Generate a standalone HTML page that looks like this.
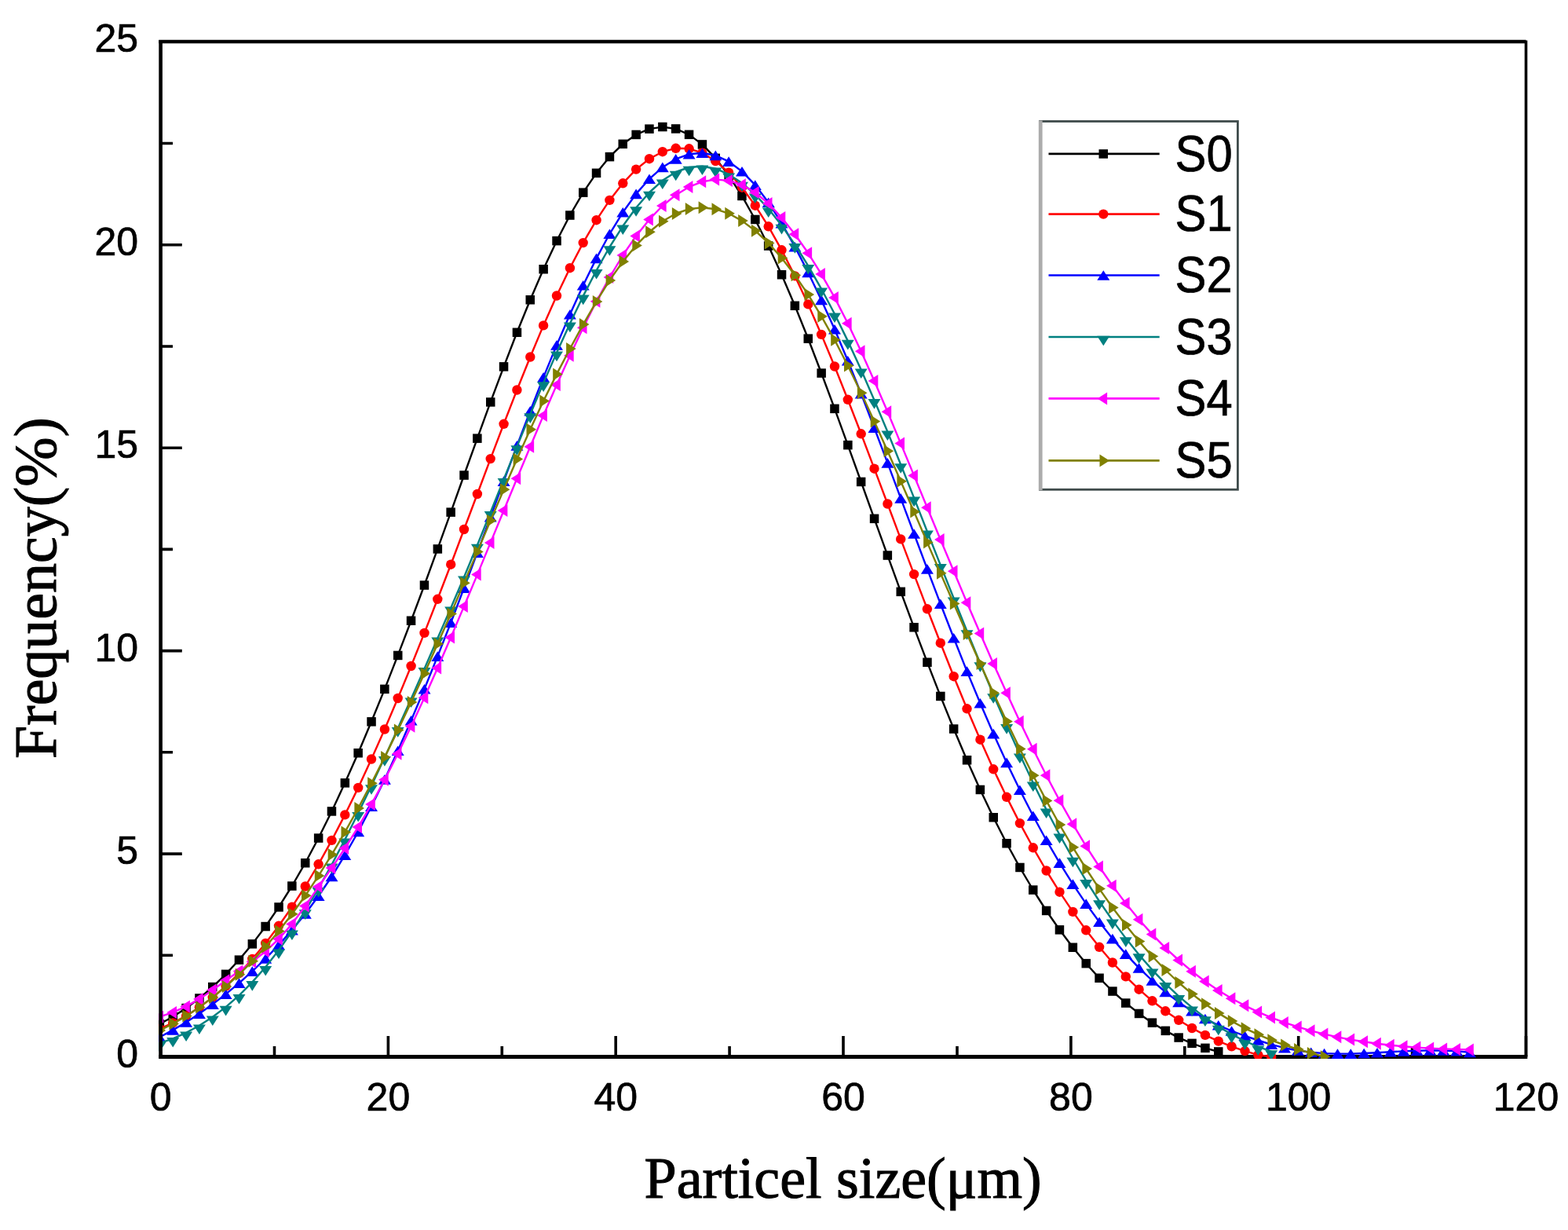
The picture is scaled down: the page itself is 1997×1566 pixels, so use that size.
<!DOCTYPE html>
<html><head><meta charset="utf-8"><title>Particle size distribution</title>
<style>html,body{margin:0;padding:0;background:#fff;} svg{display:block;}</style>
</head><body>
<svg width="1997" height="1566" viewBox="0 0 1997 1566">
<defs><clipPath id="pc"><rect x="202.1" y="50.8" width="1743.9" height="1297.2"/></clipPath></defs>
<rect x="0" y="0" width="1997" height="1566" fill="#ffffff"/>
<path d="M202.29999999999998,53.0H1943.5" stroke="#000" stroke-width="4.4" fill="none"/>
<path d="M1943.5,51.4V1345.5" stroke="#000" stroke-width="3.6" fill="none"/>
<path d="M202.29999999999998,1345.5H1945.3" stroke="#000" stroke-width="4.8" fill="none"/>
<path d="M204.6,1345.5H231.8 M204.6,1087.1H231.8 M204.6,828.6H231.8 M204.6,570.2H231.8 M204.6,311.7H231.8 M204.6,53.3H231.8 M204.6,1216.3H220 M204.6,957.8H220 M204.6,699.4H220 M204.6,441.0H220 M204.6,182.5H220 M204.6,1345.5V1319 M494.4,1345.5V1319 M784.2,1345.5V1319 M1074.0,1345.5V1319 M1363.9,1345.5V1319 M1653.7,1345.5V1319 M1943.5,1345.5V1319 M349.5,1345.5V1332 M639.3,1345.5V1332 M929.1,1345.5V1332 M1219.0,1345.5V1332 M1508.8,1345.5V1332 M1798.6,1345.5V1332" stroke="#000" stroke-width="3.6" fill="none"/>
<g clip-path="url(#pc)">
<g fill="#000000" stroke="none">
<polyline points="203.3,1303.8 220.2,1294.5 237.1,1283.6 253.9,1271.0 270.8,1256.6 287.6,1240.3 304.5,1222.1 321.3,1201.9 338.2,1179.5 355.0,1154.9 371.9,1128.0 388.8,1098.7 405.6,1067.0 422.5,1033.0 439.3,996.8 456.2,958.7 473.0,918.8 489.9,877.4 506.7,834.4 523.6,790.3 540.5,745.0 557.3,698.9 574.2,652.1 591.0,605.0 607.9,558.2 624.7,511.9 641.6,466.8 658.4,423.3 675.3,381.8 692.1,342.8 709.0,306.7 725.9,274.0 742.7,245.2 759.6,220.3 776.4,199.7 793.3,183.3 810.1,171.4 827.0,164.1 843.8,161.6 860.7,164.0 877.6,171.4 894.4,183.9 911.3,201.4 928.1,223.3 945.0,249.5 961.8,279.5 978.7,313.0 995.5,349.7 1012.4,389.3 1029.3,431.2 1046.1,475.0 1063.0,520.3 1079.8,566.6 1096.7,613.5 1113.5,660.4 1130.4,707.1 1147.2,753.3 1164.1,798.8 1180.9,843.2 1197.8,886.4 1214.7,928.0 1231.5,967.8 1248.4,1005.4 1265.2,1040.7 1282.1,1073.7 1298.9,1104.5 1315.8,1133.0 1332.6,1159.5 1349.5,1183.8 1366.4,1206.2 1383.2,1226.7 1400.1,1245.2 1416.9,1262.0 1433.8,1277.0 1450.6,1290.4 1467.5,1302.2 1484.3,1312.4 1501.2,1321.1 1518.1,1328.4 1534.9,1334.3 1551.8,1339.0" fill="none" stroke="#000000" stroke-width="2.4" stroke-linejoin="round"/>
<rect x="197.6" y="1298.0" width="11.5" height="11.5"/>
<rect x="214.5" y="1288.7" width="11.5" height="11.5"/>
<rect x="231.3" y="1277.8" width="11.5" height="11.5"/>
<rect x="248.2" y="1265.2" width="11.5" height="11.5"/>
<rect x="265.0" y="1250.8" width="11.5" height="11.5"/>
<rect x="281.9" y="1234.6" width="11.5" height="11.5"/>
<rect x="298.7" y="1216.4" width="11.5" height="11.5"/>
<rect x="315.6" y="1196.1" width="11.5" height="11.5"/>
<rect x="332.4" y="1173.8" width="11.5" height="11.5"/>
<rect x="349.3" y="1149.2" width="11.5" height="11.5"/>
<rect x="366.1" y="1122.3" width="11.5" height="11.5"/>
<rect x="383.0" y="1093.0" width="11.5" height="11.5"/>
<rect x="399.9" y="1061.3" width="11.5" height="11.5"/>
<rect x="416.7" y="1027.2" width="11.5" height="11.5"/>
<rect x="433.6" y="991.1" width="11.5" height="11.5"/>
<rect x="450.4" y="953.0" width="11.5" height="11.5"/>
<rect x="467.3" y="913.1" width="11.5" height="11.5"/>
<rect x="484.1" y="871.6" width="11.5" height="11.5"/>
<rect x="501.0" y="828.7" width="11.5" height="11.5"/>
<rect x="517.8" y="784.5" width="11.5" height="11.5"/>
<rect x="534.7" y="739.3" width="11.5" height="11.5"/>
<rect x="551.6" y="693.2" width="11.5" height="11.5"/>
<rect x="568.4" y="646.4" width="11.5" height="11.5"/>
<rect x="585.3" y="599.3" width="11.5" height="11.5"/>
<rect x="602.1" y="552.4" width="11.5" height="11.5"/>
<rect x="619.0" y="506.2" width="11.5" height="11.5"/>
<rect x="635.8" y="461.1" width="11.5" height="11.5"/>
<rect x="652.7" y="417.5" width="11.5" height="11.5"/>
<rect x="669.5" y="376.0" width="11.5" height="11.5"/>
<rect x="686.4" y="337.0" width="11.5" height="11.5"/>
<rect x="703.3" y="300.9" width="11.5" height="11.5"/>
<rect x="720.1" y="268.3" width="11.5" height="11.5"/>
<rect x="737.0" y="239.4" width="11.5" height="11.5"/>
<rect x="753.8" y="214.6" width="11.5" height="11.5"/>
<rect x="770.7" y="193.9" width="11.5" height="11.5"/>
<rect x="787.5" y="177.6" width="11.5" height="11.5"/>
<rect x="804.4" y="165.7" width="11.5" height="11.5"/>
<rect x="821.2" y="158.4" width="11.5" height="11.5"/>
<rect x="838.1" y="155.8" width="11.5" height="11.5"/>
<rect x="854.9" y="158.2" width="11.5" height="11.5"/>
<rect x="871.8" y="165.6" width="11.5" height="11.5"/>
<rect x="888.7" y="178.2" width="11.5" height="11.5"/>
<rect x="905.5" y="195.6" width="11.5" height="11.5"/>
<rect x="922.4" y="217.6" width="11.5" height="11.5"/>
<rect x="939.2" y="243.7" width="11.5" height="11.5"/>
<rect x="956.1" y="273.7" width="11.5" height="11.5"/>
<rect x="972.9" y="307.3" width="11.5" height="11.5"/>
<rect x="989.8" y="344.0" width="11.5" height="11.5"/>
<rect x="1006.6" y="383.5" width="11.5" height="11.5"/>
<rect x="1023.5" y="425.4" width="11.5" height="11.5"/>
<rect x="1040.4" y="469.3" width="11.5" height="11.5"/>
<rect x="1057.2" y="514.6" width="11.5" height="11.5"/>
<rect x="1074.1" y="560.9" width="11.5" height="11.5"/>
<rect x="1090.9" y="607.7" width="11.5" height="11.5"/>
<rect x="1107.8" y="654.6" width="11.5" height="11.5"/>
<rect x="1124.6" y="701.3" width="11.5" height="11.5"/>
<rect x="1141.5" y="747.6" width="11.5" height="11.5"/>
<rect x="1158.3" y="793.0" width="11.5" height="11.5"/>
<rect x="1175.2" y="837.5" width="11.5" height="11.5"/>
<rect x="1192.1" y="880.7" width="11.5" height="11.5"/>
<rect x="1208.9" y="922.3" width="11.5" height="11.5"/>
<rect x="1225.8" y="962.0" width="11.5" height="11.5"/>
<rect x="1242.6" y="999.7" width="11.5" height="11.5"/>
<rect x="1259.5" y="1035.0" width="11.5" height="11.5"/>
<rect x="1276.3" y="1068.0" width="11.5" height="11.5"/>
<rect x="1293.2" y="1098.7" width="11.5" height="11.5"/>
<rect x="1310.0" y="1127.3" width="11.5" height="11.5"/>
<rect x="1326.9" y="1153.7" width="11.5" height="11.5"/>
<rect x="1343.7" y="1178.1" width="11.5" height="11.5"/>
<rect x="1360.6" y="1200.5" width="11.5" height="11.5"/>
<rect x="1377.5" y="1220.9" width="11.5" height="11.5"/>
<rect x="1394.3" y="1239.5" width="11.5" height="11.5"/>
<rect x="1411.2" y="1256.3" width="11.5" height="11.5"/>
<rect x="1428.0" y="1271.3" width="11.5" height="11.5"/>
<rect x="1444.9" y="1284.7" width="11.5" height="11.5"/>
<rect x="1461.7" y="1296.4" width="11.5" height="11.5"/>
<rect x="1478.6" y="1306.6" width="11.5" height="11.5"/>
<rect x="1495.4" y="1315.3" width="11.5" height="11.5"/>
<rect x="1512.3" y="1322.6" width="11.5" height="11.5"/>
<rect x="1529.2" y="1328.6" width="11.5" height="11.5"/>
<rect x="1546.0" y="1333.2" width="11.5" height="11.5"/>
</g>
<g fill="#ff0000" stroke="none">
<polyline points="203.3,1309.8 220.2,1302.4 237.1,1293.4 253.9,1282.5 270.8,1269.9 287.6,1255.5 304.5,1239.2 321.3,1221.0 338.2,1200.9 355.0,1178.8 371.9,1154.7 388.8,1128.5 405.6,1100.3 422.5,1069.9 439.3,1037.4 456.2,1002.9 473.0,966.5 489.9,928.5 506.7,889.0 523.6,848.0 540.5,805.9 557.3,762.8 574.2,718.7 591.0,674.0 607.9,629.0 624.7,584.1 641.6,539.8 658.4,496.5 675.3,454.5 692.1,414.4 709.0,376.5 725.9,341.2 742.7,309.1 759.6,280.2 776.4,254.9 793.3,233.3 810.1,215.6 827.0,202.2 843.8,193.2 860.7,188.8 877.6,189.3 894.4,194.7 911.3,205.0 928.1,219.7 945.0,238.7 961.8,261.7 978.7,288.3 995.5,318.3 1012.4,351.4 1029.3,387.4 1046.1,425.9 1063.0,466.5 1079.8,508.8 1096.7,552.3 1113.5,596.7 1130.4,641.5 1147.2,686.4 1164.1,731.1 1180.9,775.3 1197.8,818.7 1214.7,861.2 1231.5,902.3 1248.4,941.7 1265.2,979.3 1282.1,1014.8 1298.9,1048.1 1315.8,1079.3 1332.6,1108.5 1349.5,1135.7 1366.4,1160.9 1383.2,1184.3 1400.1,1205.8 1416.9,1225.5 1433.8,1243.4 1450.6,1259.7 1467.5,1274.3 1484.3,1287.3 1501.2,1298.8 1518.1,1309.0 1534.9,1317.9 1551.8,1325.6 1568.6,1332.3 1585.5,1338.1 1602.3,1343.1 1619.2,1345.5" fill="none" stroke="#ff0000" stroke-width="2.4" stroke-linejoin="round"/>
<circle cx="203.3" cy="1309.8" r="6.2"/>
<circle cx="220.2" cy="1302.4" r="6.2"/>
<circle cx="237.1" cy="1293.4" r="6.2"/>
<circle cx="253.9" cy="1282.5" r="6.2"/>
<circle cx="270.8" cy="1269.9" r="6.2"/>
<circle cx="287.6" cy="1255.5" r="6.2"/>
<circle cx="304.5" cy="1239.2" r="6.2"/>
<circle cx="321.3" cy="1221.0" r="6.2"/>
<circle cx="338.2" cy="1200.9" r="6.2"/>
<circle cx="355.0" cy="1178.8" r="6.2"/>
<circle cx="371.9" cy="1154.7" r="6.2"/>
<circle cx="388.8" cy="1128.5" r="6.2"/>
<circle cx="405.6" cy="1100.3" r="6.2"/>
<circle cx="422.5" cy="1069.9" r="6.2"/>
<circle cx="439.3" cy="1037.4" r="6.2"/>
<circle cx="456.2" cy="1002.9" r="6.2"/>
<circle cx="473.0" cy="966.5" r="6.2"/>
<circle cx="489.9" cy="928.5" r="6.2"/>
<circle cx="506.7" cy="889.0" r="6.2"/>
<circle cx="523.6" cy="848.0" r="6.2"/>
<circle cx="540.5" cy="805.9" r="6.2"/>
<circle cx="557.3" cy="762.8" r="6.2"/>
<circle cx="574.2" cy="718.7" r="6.2"/>
<circle cx="591.0" cy="674.0" r="6.2"/>
<circle cx="607.9" cy="629.0" r="6.2"/>
<circle cx="624.7" cy="584.1" r="6.2"/>
<circle cx="641.6" cy="539.8" r="6.2"/>
<circle cx="658.4" cy="496.5" r="6.2"/>
<circle cx="675.3" cy="454.5" r="6.2"/>
<circle cx="692.1" cy="414.4" r="6.2"/>
<circle cx="709.0" cy="376.5" r="6.2"/>
<circle cx="725.9" cy="341.2" r="6.2"/>
<circle cx="742.7" cy="309.1" r="6.2"/>
<circle cx="759.6" cy="280.2" r="6.2"/>
<circle cx="776.4" cy="254.9" r="6.2"/>
<circle cx="793.3" cy="233.3" r="6.2"/>
<circle cx="810.1" cy="215.6" r="6.2"/>
<circle cx="827.0" cy="202.2" r="6.2"/>
<circle cx="843.8" cy="193.2" r="6.2"/>
<circle cx="860.7" cy="188.8" r="6.2"/>
<circle cx="877.6" cy="189.3" r="6.2"/>
<circle cx="894.4" cy="194.7" r="6.2"/>
<circle cx="911.3" cy="205.0" r="6.2"/>
<circle cx="928.1" cy="219.7" r="6.2"/>
<circle cx="945.0" cy="238.7" r="6.2"/>
<circle cx="961.8" cy="261.7" r="6.2"/>
<circle cx="978.7" cy="288.3" r="6.2"/>
<circle cx="995.5" cy="318.3" r="6.2"/>
<circle cx="1012.4" cy="351.4" r="6.2"/>
<circle cx="1029.3" cy="387.4" r="6.2"/>
<circle cx="1046.1" cy="425.9" r="6.2"/>
<circle cx="1063.0" cy="466.5" r="6.2"/>
<circle cx="1079.8" cy="508.8" r="6.2"/>
<circle cx="1096.7" cy="552.3" r="6.2"/>
<circle cx="1113.5" cy="596.7" r="6.2"/>
<circle cx="1130.4" cy="641.5" r="6.2"/>
<circle cx="1147.2" cy="686.4" r="6.2"/>
<circle cx="1164.1" cy="731.1" r="6.2"/>
<circle cx="1180.9" cy="775.3" r="6.2"/>
<circle cx="1197.8" cy="818.7" r="6.2"/>
<circle cx="1214.7" cy="861.2" r="6.2"/>
<circle cx="1231.5" cy="902.3" r="6.2"/>
<circle cx="1248.4" cy="941.7" r="6.2"/>
<circle cx="1265.2" cy="979.3" r="6.2"/>
<circle cx="1282.1" cy="1014.8" r="6.2"/>
<circle cx="1298.9" cy="1048.1" r="6.2"/>
<circle cx="1315.8" cy="1079.3" r="6.2"/>
<circle cx="1332.6" cy="1108.5" r="6.2"/>
<circle cx="1349.5" cy="1135.7" r="6.2"/>
<circle cx="1366.4" cy="1160.9" r="6.2"/>
<circle cx="1383.2" cy="1184.3" r="6.2"/>
<circle cx="1400.1" cy="1205.8" r="6.2"/>
<circle cx="1416.9" cy="1225.5" r="6.2"/>
<circle cx="1433.8" cy="1243.4" r="6.2"/>
<circle cx="1450.6" cy="1259.7" r="6.2"/>
<circle cx="1467.5" cy="1274.3" r="6.2"/>
<circle cx="1484.3" cy="1287.3" r="6.2"/>
<circle cx="1501.2" cy="1298.8" r="6.2"/>
<circle cx="1518.1" cy="1309.0" r="6.2"/>
<circle cx="1534.9" cy="1317.9" r="6.2"/>
<circle cx="1551.8" cy="1325.6" r="6.2"/>
<circle cx="1568.6" cy="1332.3" r="6.2"/>
<circle cx="1585.5" cy="1338.1" r="6.2"/>
<circle cx="1602.3" cy="1343.1" r="6.2"/>
<circle cx="1619.2" cy="1345.5" r="6.2"/>
</g>
<g fill="#0000ff" stroke="none">
<polyline points="203.3,1320.5 220.2,1311.4 237.1,1301.5 253.9,1290.6 270.8,1278.6 287.6,1265.6 304.5,1251.6 321.3,1236.6 338.2,1220.5 355.0,1203.1 371.9,1184.1 388.8,1163.5 405.6,1140.8 422.5,1116.0 439.3,1088.7 456.2,1059.0 473.0,1026.8 489.9,992.4 506.7,955.8 523.6,917.3 540.5,877.2 557.3,835.6 574.2,792.7 591.0,748.6 607.9,703.6 624.7,658.1 641.6,612.6 658.4,567.4 675.3,523.2 692.1,480.4 709.0,439.4 725.9,400.2 742.7,363.2 759.6,328.9 776.4,297.8 793.3,270.3 810.1,246.9 827.0,227.8 843.8,212.9 860.7,202.4 877.6,196.3 894.4,194.8 911.3,197.9 928.1,205.6 945.0,218.2 961.8,235.6 978.7,257.8 995.5,284.2 1012.4,314.2 1029.3,346.9 1046.1,381.9 1063.0,419.3 1079.8,459.2 1096.7,501.2 1113.5,544.8 1130.4,589.4 1147.2,634.4 1164.1,679.5 1180.9,724.4 1197.8,768.8 1214.7,812.3 1231.5,854.6 1248.4,895.3 1265.2,934.1 1282.1,970.9 1298.9,1005.8 1315.8,1038.8 1332.6,1069.7 1349.5,1098.6 1366.4,1125.6 1383.2,1150.6 1400.1,1173.7 1416.9,1195.1 1433.8,1214.6 1450.6,1232.4 1467.5,1248.5 1484.3,1263.0 1501.2,1275.9 1518.1,1287.2 1534.9,1297.0 1551.8,1305.3 1568.6,1312.5 1585.5,1318.8 1602.3,1324.5 1619.2,1329.8 1636.0,1334.2 1652.9,1337.5 1669.7,1339.8 1686.6,1341.1 1703.5,1341.6 1720.3,1341.6 1737.2,1341.0 1754.0,1340.3 1770.9,1339.3 1787.7,1338.4 1804.6,1337.7 1821.4,1337.4 1838.3,1337.5 1855.2,1338.3 1872.0,1339.9" fill="none" stroke="#0000ff" stroke-width="2.4" stroke-linejoin="round"/>
<polygon points="203.3,1314.2 211.3,1326.8 195.3,1326.8"/>
<polygon points="220.2,1305.1 228.2,1317.7 212.2,1317.7"/>
<polygon points="237.1,1295.2 245.1,1307.8 229.1,1307.8"/>
<polygon points="253.9,1284.3 261.9,1296.9 245.9,1296.9"/>
<polygon points="270.8,1272.3 278.8,1284.9 262.8,1284.9"/>
<polygon points="287.6,1259.3 295.6,1271.9 279.6,1271.9"/>
<polygon points="304.5,1245.3 312.5,1257.9 296.5,1257.9"/>
<polygon points="321.3,1230.3 329.3,1242.9 313.3,1242.9"/>
<polygon points="338.2,1214.2 346.2,1226.8 330.2,1226.8"/>
<polygon points="355.0,1196.8 363.0,1209.4 347.0,1209.4"/>
<polygon points="371.9,1177.8 379.9,1190.4 363.9,1190.4"/>
<polygon points="388.8,1157.2 396.8,1169.8 380.8,1169.8"/>
<polygon points="405.6,1134.5 413.6,1147.1 397.6,1147.1"/>
<polygon points="422.5,1109.7 430.5,1122.3 414.5,1122.3"/>
<polygon points="439.3,1082.4 447.3,1095.0 431.3,1095.0"/>
<polygon points="456.2,1052.7 464.2,1065.3 448.2,1065.3"/>
<polygon points="473.0,1020.5 481.0,1033.1 465.0,1033.1"/>
<polygon points="489.9,986.1 497.9,998.7 481.9,998.7"/>
<polygon points="506.7,949.5 514.7,962.1 498.7,962.1"/>
<polygon points="523.6,911.0 531.6,923.6 515.6,923.6"/>
<polygon points="540.5,870.9 548.5,883.5 532.5,883.5"/>
<polygon points="557.3,829.3 565.3,841.9 549.3,841.9"/>
<polygon points="574.2,786.4 582.2,799.0 566.2,799.0"/>
<polygon points="591.0,742.3 599.0,754.9 583.0,754.9"/>
<polygon points="607.9,697.3 615.9,709.9 599.9,709.9"/>
<polygon points="624.7,651.8 632.7,664.4 616.7,664.4"/>
<polygon points="641.6,606.3 649.6,618.9 633.6,618.9"/>
<polygon points="658.4,561.1 666.4,573.7 650.4,573.7"/>
<polygon points="675.3,516.9 683.3,529.5 667.3,529.5"/>
<polygon points="692.1,474.1 700.1,486.7 684.1,486.7"/>
<polygon points="709.0,433.1 717.0,445.7 701.0,445.7"/>
<polygon points="725.9,393.9 733.9,406.5 717.9,406.5"/>
<polygon points="742.7,356.9 750.7,369.5 734.7,369.5"/>
<polygon points="759.6,322.6 767.6,335.2 751.6,335.2"/>
<polygon points="776.4,291.5 784.4,304.1 768.4,304.1"/>
<polygon points="793.3,264.0 801.3,276.6 785.3,276.6"/>
<polygon points="810.1,240.6 818.1,253.2 802.1,253.2"/>
<polygon points="827.0,221.5 835.0,234.1 819.0,234.1"/>
<polygon points="843.8,206.6 851.8,219.2 835.8,219.2"/>
<polygon points="860.7,196.1 868.7,208.7 852.7,208.7"/>
<polygon points="877.6,190.0 885.6,202.6 869.6,202.6"/>
<polygon points="894.4,188.5 902.4,201.1 886.4,201.1"/>
<polygon points="911.3,191.6 919.3,204.2 903.3,204.2"/>
<polygon points="928.1,199.3 936.1,211.9 920.1,211.9"/>
<polygon points="945.0,211.9 953.0,224.5 937.0,224.5"/>
<polygon points="961.8,229.3 969.8,241.9 953.8,241.9"/>
<polygon points="978.7,251.5 986.7,264.1 970.7,264.1"/>
<polygon points="995.5,277.9 1003.5,290.5 987.5,290.5"/>
<polygon points="1012.4,307.9 1020.4,320.5 1004.4,320.5"/>
<polygon points="1029.3,340.6 1037.3,353.2 1021.3,353.2"/>
<polygon points="1046.1,375.6 1054.1,388.2 1038.1,388.2"/>
<polygon points="1063.0,413.0 1071.0,425.6 1055.0,425.6"/>
<polygon points="1079.8,452.9 1087.8,465.5 1071.8,465.5"/>
<polygon points="1096.7,494.9 1104.7,507.5 1088.7,507.5"/>
<polygon points="1113.5,538.5 1121.5,551.1 1105.5,551.1"/>
<polygon points="1130.4,583.1 1138.4,595.7 1122.4,595.7"/>
<polygon points="1147.2,628.1 1155.2,640.7 1139.2,640.7"/>
<polygon points="1164.1,673.2 1172.1,685.8 1156.1,685.8"/>
<polygon points="1180.9,718.1 1188.9,730.7 1172.9,730.7"/>
<polygon points="1197.8,762.5 1205.8,775.1 1189.8,775.1"/>
<polygon points="1214.7,806.0 1222.7,818.6 1206.7,818.6"/>
<polygon points="1231.5,848.3 1239.5,860.9 1223.5,860.9"/>
<polygon points="1248.4,889.0 1256.4,901.6 1240.4,901.6"/>
<polygon points="1265.2,927.8 1273.2,940.4 1257.2,940.4"/>
<polygon points="1282.1,964.6 1290.1,977.2 1274.1,977.2"/>
<polygon points="1298.9,999.5 1306.9,1012.1 1290.9,1012.1"/>
<polygon points="1315.8,1032.5 1323.8,1045.1 1307.8,1045.1"/>
<polygon points="1332.6,1063.4 1340.6,1076.0 1324.6,1076.0"/>
<polygon points="1349.5,1092.3 1357.5,1104.9 1341.5,1104.9"/>
<polygon points="1366.4,1119.3 1374.4,1131.9 1358.4,1131.9"/>
<polygon points="1383.2,1144.3 1391.2,1156.9 1375.2,1156.9"/>
<polygon points="1400.1,1167.4 1408.1,1180.0 1392.1,1180.0"/>
<polygon points="1416.9,1188.8 1424.9,1201.4 1408.9,1201.4"/>
<polygon points="1433.8,1208.3 1441.8,1220.9 1425.8,1220.9"/>
<polygon points="1450.6,1226.1 1458.6,1238.7 1442.6,1238.7"/>
<polygon points="1467.5,1242.2 1475.5,1254.8 1459.5,1254.8"/>
<polygon points="1484.3,1256.7 1492.3,1269.3 1476.3,1269.3"/>
<polygon points="1501.2,1269.6 1509.2,1282.2 1493.2,1282.2"/>
<polygon points="1518.1,1280.9 1526.1,1293.5 1510.1,1293.5"/>
<polygon points="1534.9,1290.7 1542.9,1303.3 1526.9,1303.3"/>
<polygon points="1551.8,1299.0 1559.8,1311.6 1543.8,1311.6"/>
<polygon points="1568.6,1306.2 1576.6,1318.8 1560.6,1318.8"/>
<polygon points="1585.5,1312.5 1593.5,1325.1 1577.5,1325.1"/>
<polygon points="1602.3,1318.2 1610.3,1330.8 1594.3,1330.8"/>
<polygon points="1619.2,1323.5 1627.2,1336.1 1611.2,1336.1"/>
<polygon points="1636.0,1327.9 1644.0,1340.5 1628.0,1340.5"/>
<polygon points="1652.9,1331.2 1660.9,1343.8 1644.9,1343.8"/>
<polygon points="1669.7,1333.5 1677.7,1346.1 1661.7,1346.1"/>
<polygon points="1686.6,1334.8 1694.6,1347.4 1678.6,1347.4"/>
<polygon points="1703.5,1335.3 1711.5,1347.9 1695.5,1347.9"/>
<polygon points="1720.3,1335.3 1728.3,1347.9 1712.3,1347.9"/>
<polygon points="1737.2,1334.7 1745.2,1347.3 1729.2,1347.3"/>
<polygon points="1754.0,1334.0 1762.0,1346.6 1746.0,1346.6"/>
<polygon points="1770.9,1333.0 1778.9,1345.6 1762.9,1345.6"/>
<polygon points="1787.7,1332.1 1795.7,1344.7 1779.7,1344.7"/>
<polygon points="1804.6,1331.4 1812.6,1344.0 1796.6,1344.0"/>
<polygon points="1821.4,1331.1 1829.4,1343.7 1813.4,1343.7"/>
<polygon points="1838.3,1331.2 1846.3,1343.8 1830.3,1343.8"/>
<polygon points="1855.2,1332.0 1863.2,1344.6 1847.2,1344.6"/>
<polygon points="1872.0,1333.6 1880.0,1346.2 1864.0,1346.2"/>
</g>
<g fill="#008080" stroke="none">
<polyline points="203.3,1328.2 220.2,1322.3 237.1,1314.8 253.9,1305.7 270.8,1294.8 287.6,1282.1 304.5,1267.3 321.3,1250.4 338.2,1231.3 355.0,1209.8 371.9,1185.8 388.8,1159.6 405.6,1131.2 422.5,1100.9 439.3,1068.9 456.2,1035.3 473.0,1000.5 489.9,964.4 506.7,927.4 523.6,889.7 540.5,851.4 557.3,812.7 574.2,773.9 591.0,734.7 607.9,694.0 624.7,652.2 641.6,610.2 658.4,568.6 675.3,527.6 692.1,487.6 709.0,448.9 725.9,411.9 742.7,376.9 759.6,344.3 776.4,314.5 793.3,287.8 810.1,264.5 827.0,245.0 843.8,229.8 860.7,219.0 877.6,213.0 894.4,211.7 911.3,214.7 928.1,221.9 945.0,233.0 961.8,247.7 978.7,265.8 995.5,287.1 1012.4,311.4 1029.3,338.3 1046.1,367.8 1063.0,399.7 1079.8,434.1 1096.7,470.7 1113.5,509.4 1130.4,549.8 1147.2,591.5 1164.1,633.9 1180.9,676.7 1197.8,719.4 1214.7,761.7 1231.5,803.5 1248.4,844.5 1265.2,884.5 1282.1,923.4 1298.9,960.8 1315.8,996.7 1332.6,1030.8 1349.5,1062.8 1366.4,1093.0 1383.2,1121.2 1400.1,1147.5 1416.9,1171.9 1433.8,1194.6 1450.6,1215.6 1467.5,1234.8 1484.3,1252.4 1501.2,1268.3 1518.1,1282.7 1534.9,1295.6 1551.8,1307.0 1568.6,1316.9 1585.5,1325.5 1602.3,1332.7 1619.2,1338.6" fill="none" stroke="#008080" stroke-width="2.4" stroke-linejoin="round"/>
<polygon points="203.3,1339.5 211.3,1326.9 195.3,1326.9"/>
<polygon points="220.2,1333.6 228.2,1321.0 212.2,1321.0"/>
<polygon points="237.1,1326.1 245.1,1313.5 229.1,1313.5"/>
<polygon points="253.9,1317.0 261.9,1304.4 245.9,1304.4"/>
<polygon points="270.8,1306.1 278.8,1293.5 262.8,1293.5"/>
<polygon points="287.6,1293.4 295.6,1280.8 279.6,1280.8"/>
<polygon points="304.5,1278.6 312.5,1266.0 296.5,1266.0"/>
<polygon points="321.3,1261.7 329.3,1249.1 313.3,1249.1"/>
<polygon points="338.2,1242.6 346.2,1230.0 330.2,1230.0"/>
<polygon points="355.0,1221.1 363.0,1208.5 347.0,1208.5"/>
<polygon points="371.9,1197.1 379.9,1184.5 363.9,1184.5"/>
<polygon points="388.8,1170.9 396.8,1158.3 380.8,1158.3"/>
<polygon points="405.6,1142.5 413.6,1129.9 397.6,1129.9"/>
<polygon points="422.5,1112.2 430.5,1099.6 414.5,1099.6"/>
<polygon points="439.3,1080.2 447.3,1067.6 431.3,1067.6"/>
<polygon points="456.2,1046.6 464.2,1034.0 448.2,1034.0"/>
<polygon points="473.0,1011.8 481.0,999.2 465.0,999.2"/>
<polygon points="489.9,975.7 497.9,963.1 481.9,963.1"/>
<polygon points="506.7,938.7 514.7,926.1 498.7,926.1"/>
<polygon points="523.6,901.0 531.6,888.4 515.6,888.4"/>
<polygon points="540.5,862.7 548.5,850.1 532.5,850.1"/>
<polygon points="557.3,824.0 565.3,811.4 549.3,811.4"/>
<polygon points="574.2,785.2 582.2,772.6 566.2,772.6"/>
<polygon points="591.0,746.0 599.0,733.4 583.0,733.4"/>
<polygon points="607.9,705.3 615.9,692.7 599.9,692.7"/>
<polygon points="624.7,663.5 632.7,650.9 616.7,650.9"/>
<polygon points="641.6,621.5 649.6,608.9 633.6,608.9"/>
<polygon points="658.4,579.9 666.4,567.3 650.4,567.3"/>
<polygon points="675.3,538.9 683.3,526.3 667.3,526.3"/>
<polygon points="692.1,498.9 700.1,486.3 684.1,486.3"/>
<polygon points="709.0,460.2 717.0,447.6 701.0,447.6"/>
<polygon points="725.9,423.2 733.9,410.6 717.9,410.6"/>
<polygon points="742.7,388.2 750.7,375.6 734.7,375.6"/>
<polygon points="759.6,355.6 767.6,343.0 751.6,343.0"/>
<polygon points="776.4,325.8 784.4,313.2 768.4,313.2"/>
<polygon points="793.3,299.1 801.3,286.5 785.3,286.5"/>
<polygon points="810.1,275.8 818.1,263.2 802.1,263.2"/>
<polygon points="827.0,256.3 835.0,243.7 819.0,243.7"/>
<polygon points="843.8,241.1 851.8,228.5 835.8,228.5"/>
<polygon points="860.7,230.3 868.7,217.7 852.7,217.7"/>
<polygon points="877.6,224.3 885.6,211.7 869.6,211.7"/>
<polygon points="894.4,223.0 902.4,210.4 886.4,210.4"/>
<polygon points="911.3,226.0 919.3,213.4 903.3,213.4"/>
<polygon points="928.1,233.2 936.1,220.6 920.1,220.6"/>
<polygon points="945.0,244.3 953.0,231.7 937.0,231.7"/>
<polygon points="961.8,259.0 969.8,246.4 953.8,246.4"/>
<polygon points="978.7,277.1 986.7,264.5 970.7,264.5"/>
<polygon points="995.5,298.4 1003.5,285.8 987.5,285.8"/>
<polygon points="1012.4,322.7 1020.4,310.1 1004.4,310.1"/>
<polygon points="1029.3,349.6 1037.3,337.0 1021.3,337.0"/>
<polygon points="1046.1,379.1 1054.1,366.5 1038.1,366.5"/>
<polygon points="1063.0,411.0 1071.0,398.4 1055.0,398.4"/>
<polygon points="1079.8,445.4 1087.8,432.8 1071.8,432.8"/>
<polygon points="1096.7,482.0 1104.7,469.4 1088.7,469.4"/>
<polygon points="1113.5,520.7 1121.5,508.1 1105.5,508.1"/>
<polygon points="1130.4,561.1 1138.4,548.5 1122.4,548.5"/>
<polygon points="1147.2,602.8 1155.2,590.2 1139.2,590.2"/>
<polygon points="1164.1,645.2 1172.1,632.6 1156.1,632.6"/>
<polygon points="1180.9,688.0 1188.9,675.4 1172.9,675.4"/>
<polygon points="1197.8,730.7 1205.8,718.1 1189.8,718.1"/>
<polygon points="1214.7,773.0 1222.7,760.4 1206.7,760.4"/>
<polygon points="1231.5,814.8 1239.5,802.2 1223.5,802.2"/>
<polygon points="1248.4,855.8 1256.4,843.2 1240.4,843.2"/>
<polygon points="1265.2,895.8 1273.2,883.2 1257.2,883.2"/>
<polygon points="1282.1,934.7 1290.1,922.1 1274.1,922.1"/>
<polygon points="1298.9,972.1 1306.9,959.5 1290.9,959.5"/>
<polygon points="1315.8,1008.0 1323.8,995.4 1307.8,995.4"/>
<polygon points="1332.6,1042.1 1340.6,1029.5 1324.6,1029.5"/>
<polygon points="1349.5,1074.1 1357.5,1061.5 1341.5,1061.5"/>
<polygon points="1366.4,1104.3 1374.4,1091.7 1358.4,1091.7"/>
<polygon points="1383.2,1132.5 1391.2,1119.9 1375.2,1119.9"/>
<polygon points="1400.1,1158.8 1408.1,1146.2 1392.1,1146.2"/>
<polygon points="1416.9,1183.2 1424.9,1170.6 1408.9,1170.6"/>
<polygon points="1433.8,1205.9 1441.8,1193.3 1425.8,1193.3"/>
<polygon points="1450.6,1226.9 1458.6,1214.3 1442.6,1214.3"/>
<polygon points="1467.5,1246.1 1475.5,1233.5 1459.5,1233.5"/>
<polygon points="1484.3,1263.7 1492.3,1251.1 1476.3,1251.1"/>
<polygon points="1501.2,1279.6 1509.2,1267.0 1493.2,1267.0"/>
<polygon points="1518.1,1294.0 1526.1,1281.4 1510.1,1281.4"/>
<polygon points="1534.9,1306.9 1542.9,1294.3 1526.9,1294.3"/>
<polygon points="1551.8,1318.3 1559.8,1305.7 1543.8,1305.7"/>
<polygon points="1568.6,1328.2 1576.6,1315.6 1560.6,1315.6"/>
<polygon points="1585.5,1336.8 1593.5,1324.2 1577.5,1324.2"/>
<polygon points="1602.3,1344.0 1610.3,1331.4 1594.3,1331.4"/>
<polygon points="1619.2,1349.9 1627.2,1337.3 1611.2,1337.3"/>
</g>
<g fill="#ff00ff" stroke="none">
<polyline points="203.3,1294.7 220.2,1288.9 237.1,1281.4 253.9,1271.9 270.8,1260.5 287.6,1248.3 304.5,1236.6 321.3,1224.5 338.2,1211.2 355.0,1195.5 371.9,1176.4 388.8,1153.5 405.6,1129.1 422.5,1105.1 439.3,1080.0 456.2,1053.0 473.0,1024.0 489.9,992.8 506.7,959.7 523.6,924.7 540.5,888.3 557.3,850.5 574.2,811.6 591.0,771.9 607.9,731.6 624.7,690.9 641.6,650.0 658.4,609.2 675.3,568.7 692.1,528.9 709.0,490.1 725.9,452.8 742.7,417.2 759.6,383.8 776.4,353.0 793.3,325.0 810.1,300.4 827.0,279.4 843.8,262.0 860.7,248.2 877.6,237.9 894.4,231.3 911.3,228.6 928.1,229.9 945.0,235.3 961.8,245.0 978.7,259.1 995.5,277.1 1012.4,298.3 1029.3,322.3 1046.1,349.1 1063.0,378.9 1079.8,411.8 1096.7,447.3 1113.5,485.0 1130.4,524.3 1147.2,564.6 1164.1,605.4 1180.9,646.3 1197.8,687.0 1214.7,727.3 1231.5,767.2 1248.4,806.4 1265.2,844.9 1282.1,882.3 1298.9,918.7 1315.8,953.7 1332.6,987.3 1349.5,1019.2 1366.4,1049.2 1383.2,1077.3 1400.1,1103.5 1416.9,1127.7 1433.8,1150.1 1450.6,1170.7 1467.5,1189.6 1484.3,1206.9 1501.2,1222.5 1518.1,1236.7 1534.9,1249.5 1551.8,1260.9 1568.6,1271.2 1585.5,1280.3 1602.3,1288.4 1619.2,1295.6 1636.0,1301.9 1652.9,1307.4 1669.7,1312.3 1686.6,1316.6 1703.5,1320.3 1720.3,1323.6 1737.2,1326.3 1754.0,1328.7 1770.9,1330.7 1787.7,1332.3 1804.6,1333.6 1821.4,1334.6 1838.3,1335.4 1855.2,1336.0 1872.0,1336.4" fill="none" stroke="#ff00ff" stroke-width="2.4" stroke-linejoin="round"/>
<polygon points="195.5,1294.7 208.1,1286.7 208.1,1302.7"/>
<polygon points="212.4,1288.9 225.0,1280.9 225.0,1296.9"/>
<polygon points="229.3,1281.4 241.9,1273.4 241.9,1289.4"/>
<polygon points="246.1,1271.9 258.7,1263.9 258.7,1279.9"/>
<polygon points="263.0,1260.5 275.6,1252.5 275.6,1268.5"/>
<polygon points="279.8,1248.3 292.4,1240.3 292.4,1256.3"/>
<polygon points="296.7,1236.6 309.3,1228.6 309.3,1244.6"/>
<polygon points="313.5,1224.5 326.1,1216.5 326.1,1232.5"/>
<polygon points="330.4,1211.2 343.0,1203.2 343.0,1219.2"/>
<polygon points="347.2,1195.5 359.8,1187.5 359.8,1203.5"/>
<polygon points="364.1,1176.4 376.7,1168.4 376.7,1184.4"/>
<polygon points="381.0,1153.5 393.6,1145.5 393.6,1161.5"/>
<polygon points="397.8,1129.1 410.4,1121.1 410.4,1137.1"/>
<polygon points="414.7,1105.1 427.3,1097.1 427.3,1113.1"/>
<polygon points="431.5,1080.0 444.1,1072.0 444.1,1088.0"/>
<polygon points="448.4,1053.0 461.0,1045.0 461.0,1061.0"/>
<polygon points="465.2,1024.0 477.8,1016.0 477.8,1032.0"/>
<polygon points="482.1,992.8 494.7,984.8 494.7,1000.8"/>
<polygon points="498.9,959.7 511.5,951.7 511.5,967.7"/>
<polygon points="515.8,924.7 528.4,916.7 528.4,932.7"/>
<polygon points="532.7,888.3 545.3,880.3 545.3,896.3"/>
<polygon points="549.5,850.5 562.1,842.5 562.1,858.5"/>
<polygon points="566.4,811.6 579.0,803.6 579.0,819.6"/>
<polygon points="583.2,771.9 595.8,763.9 595.8,779.9"/>
<polygon points="600.1,731.6 612.7,723.6 612.7,739.6"/>
<polygon points="616.9,690.9 629.5,682.9 629.5,698.9"/>
<polygon points="633.8,650.0 646.4,642.0 646.4,658.0"/>
<polygon points="650.6,609.2 663.2,601.2 663.2,617.2"/>
<polygon points="667.5,568.7 680.1,560.7 680.1,576.7"/>
<polygon points="684.3,528.9 696.9,520.9 696.9,536.9"/>
<polygon points="701.2,490.1 713.8,482.1 713.8,498.1"/>
<polygon points="718.1,452.8 730.7,444.8 730.7,460.8"/>
<polygon points="734.9,417.2 747.5,409.2 747.5,425.2"/>
<polygon points="751.8,383.8 764.4,375.8 764.4,391.8"/>
<polygon points="768.6,353.0 781.2,345.0 781.2,361.0"/>
<polygon points="785.5,325.0 798.1,317.0 798.1,333.0"/>
<polygon points="802.3,300.4 814.9,292.4 814.9,308.4"/>
<polygon points="819.2,279.4 831.8,271.4 831.8,287.4"/>
<polygon points="836.0,262.0 848.6,254.0 848.6,270.0"/>
<polygon points="852.9,248.2 865.5,240.2 865.5,256.2"/>
<polygon points="869.8,237.9 882.4,229.9 882.4,245.9"/>
<polygon points="886.6,231.3 899.2,223.3 899.2,239.3"/>
<polygon points="903.5,228.6 916.1,220.6 916.1,236.6"/>
<polygon points="920.3,229.9 932.9,221.9 932.9,237.9"/>
<polygon points="937.2,235.3 949.8,227.3 949.8,243.3"/>
<polygon points="954.0,245.0 966.6,237.0 966.6,253.0"/>
<polygon points="970.9,259.1 983.5,251.1 983.5,267.1"/>
<polygon points="987.7,277.1 1000.3,269.1 1000.3,285.1"/>
<polygon points="1004.6,298.3 1017.2,290.3 1017.2,306.3"/>
<polygon points="1021.5,322.3 1034.1,314.3 1034.1,330.3"/>
<polygon points="1038.3,349.1 1050.9,341.1 1050.9,357.1"/>
<polygon points="1055.2,378.9 1067.8,370.9 1067.8,386.9"/>
<polygon points="1072.0,411.8 1084.6,403.8 1084.6,419.8"/>
<polygon points="1088.9,447.3 1101.5,439.3 1101.5,455.3"/>
<polygon points="1105.7,485.0 1118.3,477.0 1118.3,493.0"/>
<polygon points="1122.6,524.3 1135.2,516.3 1135.2,532.3"/>
<polygon points="1139.4,564.6 1152.0,556.6 1152.0,572.6"/>
<polygon points="1156.3,605.4 1168.9,597.4 1168.9,613.4"/>
<polygon points="1173.1,646.3 1185.7,638.3 1185.7,654.3"/>
<polygon points="1190.0,687.0 1202.6,679.0 1202.6,695.0"/>
<polygon points="1206.9,727.3 1219.5,719.3 1219.5,735.3"/>
<polygon points="1223.7,767.2 1236.3,759.2 1236.3,775.2"/>
<polygon points="1240.6,806.4 1253.2,798.4 1253.2,814.4"/>
<polygon points="1257.4,844.9 1270.0,836.9 1270.0,852.9"/>
<polygon points="1274.3,882.3 1286.9,874.3 1286.9,890.3"/>
<polygon points="1291.1,918.7 1303.7,910.7 1303.7,926.7"/>
<polygon points="1308.0,953.7 1320.6,945.7 1320.6,961.7"/>
<polygon points="1324.8,987.3 1337.4,979.3 1337.4,995.3"/>
<polygon points="1341.7,1019.2 1354.3,1011.2 1354.3,1027.2"/>
<polygon points="1358.6,1049.2 1371.2,1041.2 1371.2,1057.2"/>
<polygon points="1375.4,1077.3 1388.0,1069.3 1388.0,1085.3"/>
<polygon points="1392.3,1103.5 1404.9,1095.5 1404.9,1111.5"/>
<polygon points="1409.1,1127.7 1421.7,1119.7 1421.7,1135.7"/>
<polygon points="1426.0,1150.1 1438.6,1142.1 1438.6,1158.1"/>
<polygon points="1442.8,1170.7 1455.4,1162.7 1455.4,1178.7"/>
<polygon points="1459.7,1189.6 1472.3,1181.6 1472.3,1197.6"/>
<polygon points="1476.5,1206.9 1489.1,1198.9 1489.1,1214.9"/>
<polygon points="1493.4,1222.5 1506.0,1214.5 1506.0,1230.5"/>
<polygon points="1510.3,1236.7 1522.9,1228.7 1522.9,1244.7"/>
<polygon points="1527.1,1249.5 1539.7,1241.5 1539.7,1257.5"/>
<polygon points="1544.0,1260.9 1556.6,1252.9 1556.6,1268.9"/>
<polygon points="1560.8,1271.2 1573.4,1263.2 1573.4,1279.2"/>
<polygon points="1577.7,1280.3 1590.3,1272.3 1590.3,1288.3"/>
<polygon points="1594.5,1288.4 1607.1,1280.4 1607.1,1296.4"/>
<polygon points="1611.4,1295.6 1624.0,1287.6 1624.0,1303.6"/>
<polygon points="1628.2,1301.9 1640.8,1293.9 1640.8,1309.9"/>
<polygon points="1645.1,1307.4 1657.7,1299.4 1657.7,1315.4"/>
<polygon points="1661.9,1312.3 1674.5,1304.3 1674.5,1320.3"/>
<polygon points="1678.8,1316.6 1691.4,1308.6 1691.4,1324.6"/>
<polygon points="1695.7,1320.3 1708.3,1312.3 1708.3,1328.3"/>
<polygon points="1712.5,1323.6 1725.1,1315.6 1725.1,1331.6"/>
<polygon points="1729.4,1326.3 1742.0,1318.3 1742.0,1334.3"/>
<polygon points="1746.2,1328.7 1758.8,1320.7 1758.8,1336.7"/>
<polygon points="1763.1,1330.7 1775.7,1322.7 1775.7,1338.7"/>
<polygon points="1779.9,1332.3 1792.5,1324.3 1792.5,1340.3"/>
<polygon points="1796.8,1333.6 1809.4,1325.6 1809.4,1341.6"/>
<polygon points="1813.6,1334.6 1826.2,1326.6 1826.2,1342.6"/>
<polygon points="1830.5,1335.4 1843.1,1327.4 1843.1,1343.4"/>
<polygon points="1847.4,1336.0 1860.0,1328.0 1860.0,1344.0"/>
<polygon points="1864.2,1336.4 1876.8,1328.4 1876.8,1344.4"/>
</g>
<g fill="#808000" stroke="none">
<polyline points="203.3,1312.0 220.2,1303.4 237.1,1293.6 253.9,1282.4 270.8,1269.9 287.6,1256.0 304.5,1240.7 321.3,1223.8 338.2,1205.4 355.0,1185.4 371.9,1163.7 388.8,1140.3 405.6,1115.1 422.5,1088.1 439.3,1059.4 456.2,1029.1 473.0,997.2 489.9,964.1 506.7,929.6 523.6,894.0 540.5,857.4 557.3,819.8 574.2,781.4 591.0,742.3 607.9,702.6 624.7,662.8 641.6,623.3 658.4,584.4 675.3,546.7 692.1,510.6 709.0,476.4 725.9,444.0 742.7,413.1 759.6,383.9 776.4,356.9 793.3,333.0 810.1,312.4 827.0,295.3 843.8,281.8 860.7,272.0 877.6,266.1 894.4,264.2 911.3,266.2 928.1,271.8 945.0,281.1 961.8,293.7 978.7,309.5 995.5,328.4 1012.4,350.3 1029.3,375.1 1046.1,402.7 1063.0,432.8 1079.8,465.5 1096.7,500.2 1113.5,536.6 1130.4,574.3 1147.2,612.7 1164.1,651.6 1180.9,690.6 1197.8,729.7 1214.7,768.6 1231.5,807.1 1248.4,845.0 1265.2,882.2 1282.1,918.4 1298.9,953.5 1315.8,987.2 1332.6,1019.4 1349.5,1050.0 1366.4,1078.8 1383.2,1106.0 1400.1,1131.6 1416.9,1155.5 1433.8,1177.7 1450.6,1198.4 1467.5,1217.5 1484.3,1235.0 1501.2,1251.0 1518.1,1265.4 1534.9,1278.3 1551.8,1289.9 1568.6,1300.1 1585.5,1309.2 1602.3,1317.2 1619.2,1324.3 1636.0,1330.5 1652.9,1336.0 1669.7,1340.9 1686.6,1345.3" fill="none" stroke="#808000" stroke-width="2.4" stroke-linejoin="round"/>
<polygon points="211.1,1312.0 198.5,1304.0 198.5,1320.0"/>
<polygon points="228.0,1303.4 215.4,1295.4 215.4,1311.4"/>
<polygon points="244.9,1293.6 232.3,1285.6 232.3,1301.6"/>
<polygon points="261.7,1282.4 249.1,1274.4 249.1,1290.4"/>
<polygon points="278.6,1269.9 266.0,1261.9 266.0,1277.9"/>
<polygon points="295.4,1256.0 282.8,1248.0 282.8,1264.0"/>
<polygon points="312.3,1240.7 299.7,1232.7 299.7,1248.7"/>
<polygon points="329.1,1223.8 316.5,1215.8 316.5,1231.8"/>
<polygon points="346.0,1205.4 333.4,1197.4 333.4,1213.4"/>
<polygon points="362.8,1185.4 350.2,1177.4 350.2,1193.4"/>
<polygon points="379.7,1163.7 367.1,1155.7 367.1,1171.7"/>
<polygon points="396.6,1140.3 384.0,1132.3 384.0,1148.3"/>
<polygon points="413.4,1115.1 400.8,1107.1 400.8,1123.1"/>
<polygon points="430.3,1088.1 417.7,1080.1 417.7,1096.1"/>
<polygon points="447.1,1059.4 434.5,1051.4 434.5,1067.4"/>
<polygon points="464.0,1029.1 451.4,1021.1 451.4,1037.1"/>
<polygon points="480.8,997.2 468.2,989.2 468.2,1005.2"/>
<polygon points="497.7,964.1 485.1,956.1 485.1,972.1"/>
<polygon points="514.5,929.6 501.9,921.6 501.9,937.6"/>
<polygon points="531.4,894.0 518.8,886.0 518.8,902.0"/>
<polygon points="548.3,857.4 535.7,849.4 535.7,865.4"/>
<polygon points="565.1,819.8 552.5,811.8 552.5,827.8"/>
<polygon points="582.0,781.4 569.4,773.4 569.4,789.4"/>
<polygon points="598.8,742.3 586.2,734.3 586.2,750.3"/>
<polygon points="615.7,702.6 603.1,694.6 603.1,710.6"/>
<polygon points="632.5,662.8 619.9,654.8 619.9,670.8"/>
<polygon points="649.4,623.3 636.8,615.3 636.8,631.3"/>
<polygon points="666.2,584.4 653.6,576.4 653.6,592.4"/>
<polygon points="683.1,546.7 670.5,538.7 670.5,554.7"/>
<polygon points="699.9,510.6 687.3,502.6 687.3,518.6"/>
<polygon points="716.8,476.4 704.2,468.4 704.2,484.4"/>
<polygon points="733.7,444.0 721.1,436.0 721.1,452.0"/>
<polygon points="750.5,413.1 737.9,405.1 737.9,421.1"/>
<polygon points="767.4,383.9 754.8,375.9 754.8,391.9"/>
<polygon points="784.2,356.9 771.6,348.9 771.6,364.9"/>
<polygon points="801.1,333.0 788.5,325.0 788.5,341.0"/>
<polygon points="817.9,312.4 805.3,304.4 805.3,320.4"/>
<polygon points="834.8,295.3 822.2,287.3 822.2,303.3"/>
<polygon points="851.6,281.8 839.0,273.8 839.0,289.8"/>
<polygon points="868.5,272.0 855.9,264.0 855.9,280.0"/>
<polygon points="885.4,266.1 872.8,258.1 872.8,274.1"/>
<polygon points="902.2,264.2 889.6,256.2 889.6,272.2"/>
<polygon points="919.1,266.2 906.5,258.2 906.5,274.2"/>
<polygon points="935.9,271.8 923.3,263.8 923.3,279.8"/>
<polygon points="952.8,281.1 940.2,273.1 940.2,289.1"/>
<polygon points="969.6,293.7 957.0,285.7 957.0,301.7"/>
<polygon points="986.5,309.5 973.9,301.5 973.9,317.5"/>
<polygon points="1003.3,328.4 990.7,320.4 990.7,336.4"/>
<polygon points="1020.2,350.3 1007.6,342.3 1007.6,358.3"/>
<polygon points="1037.1,375.1 1024.5,367.1 1024.5,383.1"/>
<polygon points="1053.9,402.7 1041.3,394.7 1041.3,410.7"/>
<polygon points="1070.8,432.8 1058.2,424.8 1058.2,440.8"/>
<polygon points="1087.6,465.5 1075.0,457.5 1075.0,473.5"/>
<polygon points="1104.5,500.2 1091.9,492.2 1091.9,508.2"/>
<polygon points="1121.3,536.6 1108.7,528.6 1108.7,544.6"/>
<polygon points="1138.2,574.3 1125.6,566.3 1125.6,582.3"/>
<polygon points="1155.0,612.7 1142.4,604.7 1142.4,620.7"/>
<polygon points="1171.9,651.6 1159.3,643.6 1159.3,659.6"/>
<polygon points="1188.7,690.6 1176.1,682.6 1176.1,698.6"/>
<polygon points="1205.6,729.7 1193.0,721.7 1193.0,737.7"/>
<polygon points="1222.5,768.6 1209.9,760.6 1209.9,776.6"/>
<polygon points="1239.3,807.1 1226.7,799.1 1226.7,815.1"/>
<polygon points="1256.2,845.0 1243.6,837.0 1243.6,853.0"/>
<polygon points="1273.0,882.2 1260.4,874.2 1260.4,890.2"/>
<polygon points="1289.9,918.4 1277.3,910.4 1277.3,926.4"/>
<polygon points="1306.7,953.5 1294.1,945.5 1294.1,961.5"/>
<polygon points="1323.6,987.2 1311.0,979.2 1311.0,995.2"/>
<polygon points="1340.4,1019.4 1327.8,1011.4 1327.8,1027.4"/>
<polygon points="1357.3,1050.0 1344.7,1042.0 1344.7,1058.0"/>
<polygon points="1374.2,1078.8 1361.6,1070.8 1361.6,1086.8"/>
<polygon points="1391.0,1106.0 1378.4,1098.0 1378.4,1114.0"/>
<polygon points="1407.9,1131.6 1395.3,1123.6 1395.3,1139.6"/>
<polygon points="1424.7,1155.5 1412.1,1147.5 1412.1,1163.5"/>
<polygon points="1441.6,1177.7 1429.0,1169.7 1429.0,1185.7"/>
<polygon points="1458.4,1198.4 1445.8,1190.4 1445.8,1206.4"/>
<polygon points="1475.3,1217.5 1462.7,1209.5 1462.7,1225.5"/>
<polygon points="1492.1,1235.0 1479.5,1227.0 1479.5,1243.0"/>
<polygon points="1509.0,1251.0 1496.4,1243.0 1496.4,1259.0"/>
<polygon points="1525.9,1265.4 1513.3,1257.4 1513.3,1273.4"/>
<polygon points="1542.7,1278.3 1530.1,1270.3 1530.1,1286.3"/>
<polygon points="1559.6,1289.9 1547.0,1281.9 1547.0,1297.9"/>
<polygon points="1576.4,1300.1 1563.8,1292.1 1563.8,1308.1"/>
<polygon points="1593.3,1309.2 1580.7,1301.2 1580.7,1317.2"/>
<polygon points="1610.1,1317.2 1597.5,1309.2 1597.5,1325.2"/>
<polygon points="1627.0,1324.3 1614.4,1316.3 1614.4,1332.3"/>
<polygon points="1643.8,1330.5 1631.2,1322.5 1631.2,1338.5"/>
<polygon points="1660.7,1336.0 1648.1,1328.0 1648.1,1344.0"/>
<polygon points="1677.5,1340.9 1664.9,1332.9 1664.9,1348.9"/>
<polygon points="1694.4,1345.3 1681.8,1337.3 1681.8,1353.3"/>
</g>
</g>
<path d="M204.6,51.0V1347.8" stroke="#000" stroke-width="4.6"/>
<g font-family="Liberation Sans, Arial, sans-serif" font-size="50" fill="#000" stroke="#000" stroke-width="0.7">
<text x="176" y="1358.5" text-anchor="end">0</text>
<text x="176" y="1100.1" text-anchor="end">5</text>
<text x="176" y="841.6" text-anchor="end">10</text>
<text x="176" y="583.2" text-anchor="end">15</text>
<text x="176" y="324.7" text-anchor="end">20</text>
<text x="176" y="66.3" text-anchor="end">25</text>
<text x="204.6" y="1413.6" text-anchor="middle">0</text>
<text x="494.4" y="1413.6" text-anchor="middle">20</text>
<text x="784.2" y="1413.6" text-anchor="middle">40</text>
<text x="1074.0" y="1413.6" text-anchor="middle">60</text>
<text x="1363.9" y="1413.6" text-anchor="middle">80</text>
<text x="1653.7" y="1413.6" text-anchor="middle">100</text>
<text x="1943.5" y="1413.6" text-anchor="middle">120</text>
</g>
<g font-family="Liberation Serif, Times New Roman, serif" fill="#000" stroke="#000" stroke-width="1.1">
<text x="71" y="748.6" font-size="76" text-anchor="middle" transform="rotate(-90 71 748.6)">Frequency(%)</text>
<text x="1073.6" y="1525.4" font-size="74" text-anchor="middle">Particel size(μm)</text>
</g>
<rect x="1324.5" y="154.5" width="251.9000000000001" height="468.79999999999995" fill="#ffffff" stroke="#3f4b4b" stroke-width="2.8"/>
<rect x="1322.8" y="153.5" width="4.8" height="470.79999999999995" fill="#acacac"/>
<text x="0" y="0" transform="translate(1496.5 217.5) scale(0.92 1)" font-family="Liberation Sans, Arial, sans-serif" font-size="65" fill="#000" stroke="#000" stroke-width="0.7">S0</text>
<text x="0" y="0" transform="translate(1496.5 294.2) scale(0.92 1)" font-family="Liberation Sans, Arial, sans-serif" font-size="65" fill="#000" stroke="#000" stroke-width="0.7">S1</text>
<text x="0" y="0" transform="translate(1496.5 372.1) scale(0.92 1)" font-family="Liberation Sans, Arial, sans-serif" font-size="65" fill="#000" stroke="#000" stroke-width="0.7">S2</text>
<text x="0" y="0" transform="translate(1496.5 450.6) scale(0.92 1)" font-family="Liberation Sans, Arial, sans-serif" font-size="65" fill="#000" stroke="#000" stroke-width="0.7">S3</text>
<text x="0" y="0" transform="translate(1496.5 529.0) scale(0.92 1)" font-family="Liberation Sans, Arial, sans-serif" font-size="65" fill="#000" stroke="#000" stroke-width="0.7">S4</text>
<text x="0" y="0" transform="translate(1496.5 608.0) scale(0.92 1)" font-family="Liberation Sans, Arial, sans-serif" font-size="65" fill="#000" stroke="#000" stroke-width="0.7">S5</text>
<g fill="#000000"><path d="M1335.5,195.9H1476.7" stroke="#000000" stroke-width="2.6"/><rect x="1399.5" y="190.2" width="11.5" height="11.5"/></g>
<g fill="#ff0000"><path d="M1335.5,272.6H1476.7" stroke="#ff0000" stroke-width="2.6"/><circle cx="1405.3" cy="272.6" r="6.2"/></g>
<g fill="#0000ff"><path d="M1335.5,350.5H1476.7" stroke="#0000ff" stroke-width="2.6"/><polygon points="1405.3,344.2 1413.3,356.8 1397.3,356.8"/></g>
<g fill="#008080"><path d="M1335.5,429.0H1476.7" stroke="#008080" stroke-width="2.6"/><polygon points="1405.3,440.3 1413.3,427.7 1397.3,427.7"/></g>
<g fill="#ff00ff"><path d="M1335.5,507.4H1476.7" stroke="#ff00ff" stroke-width="2.6"/><polygon points="1397.5,507.4 1410.1,499.4 1410.1,515.4"/></g>
<g fill="#808000"><path d="M1335.5,586.4H1476.7" stroke="#808000" stroke-width="2.6"/><polygon points="1413.1,586.4 1400.5,578.4 1400.5,594.4"/></g>
</svg>
</body></html>
